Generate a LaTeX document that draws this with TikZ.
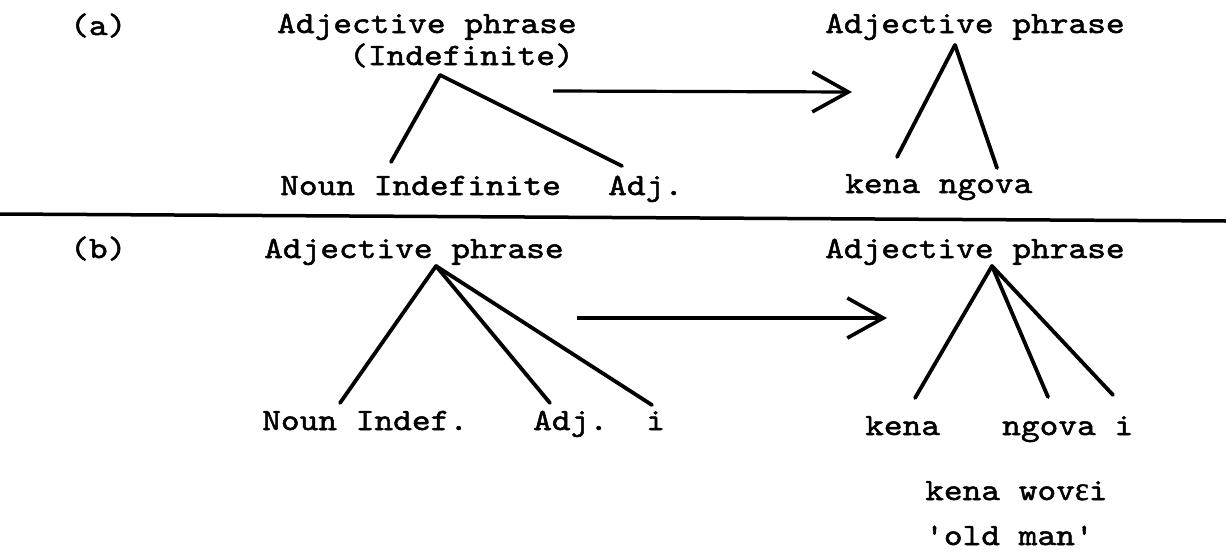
\documentclass[tikz,border=0pt]{standalone}
\usepackage{fontspec}
\newfontfamily\tw{lmmono10-regular.otf}[FakeBold=1.6,FakeStretch=1.15]
\newfontfamily\epsfont{Liberation Serif}[FakeBold=1.6]
\usetikzlibrary{arrows.meta}
\begin{document}
\begin{tikzpicture}[x=1pt,y=-1pt,
  lbl/.style={anchor=base west,inner sep=0pt,
    font=\fontsize{31}{36}\selectfont\tw},
  branch/.style={line width=3.8pt,line cap=round},
  hrule/.style={line width=3.5pt},
  trans/.style={line width=3.2pt,-{Straight Barb[length=36pt,width=40pt,line width=3.6pt]}}]
\useasboundingbox (0,0) rectangle (1226,552);
% ---- (a)
\node[lbl] (la) at (70,35) {(a)};
\node[lbl] (ap1) at (277,33) {Adjective phrase};
\node[lbl] (ind1) at (349,65) {(Indefinite)};
\node[lbl] (n1) at (280,195) {Noun Indefinite};
\node[lbl] (adj1) at (608,195) {Adj.};
\node[lbl] (ap2) at (825,33) {Adjective phrase};
\node[lbl] (kn1) at (845,193) {kena ngova};
\coordinate (t1) at (440,75);
\coordinate (t1l) at (391,162);
\coordinate (t1r) at (622,166);
\draw[branch] (t1) -- (t1l);
\draw[branch] (t1) -- (t1r);
\coordinate (t2) at (955,45);
\coordinate (t2l) at (897,157);
\coordinate (t2r) at (997,168);
\draw[branch] (t2) -- (t2l);
\draw[branch] (t2) -- (t2r);
\coordinate (a1s) at (553,91);
\coordinate (a1e) at (852,92);
\draw[trans] (a1s) -- (a1e);
% ---- rule
\coordinate (r0) at (0,214);
\coordinate (r1) at (1226,221);
\draw[hrule] (r0) -- (r1);
% ---- (b)
\node[lbl] (lb) at (70,258) {(b)};
\node[lbl] (ap3) at (264,258) {Adjective phrase};
\node[lbl] (n3) at (262,430) {Noun Indef.};
\node[lbl] (adj3) at (533,430) {Adj.};
\node[lbl] (i3) at (646,430) {i};
\node[lbl] (ap4) at (825,258) {Adjective phrase};
\node[lbl] (ke4) at (865,435) {kena};
\node[lbl] (ng4) at (1002,435) {ngova i};
\node[lbl] (kw) at (925,500) {kena wov{\epsfont\fontsize{33}{36}\selectfont ε}i};
\node[lbl] (om) at (925,545) {'old man'};
\coordinate (t3) at (436,266);
\coordinate (t3a) at (340,403);
\coordinate (t3b) at (550,403);
\coordinate (t3c) at (652,405);
\draw[branch] (t3) -- (t3a);
\draw[branch] (t3) -- (t3b);
\draw[branch] (t3) -- (t3c);
\coordinate (t4) at (992,266);
\coordinate (t4a) at (915,398);
\coordinate (t4b) at (1048,397);
\coordinate (t4c) at (1113,395);
\draw[branch] (t4) -- (t4a);
\draw[branch] (t4) -- (t4b);
\draw[branch] (t4) -- (t4c);
\coordinate (a2s) at (577,318);
\coordinate (a2e) at (887,318);
\draw[trans] (a2s) -- (a2e);
\end{tikzpicture}
\end{document}
